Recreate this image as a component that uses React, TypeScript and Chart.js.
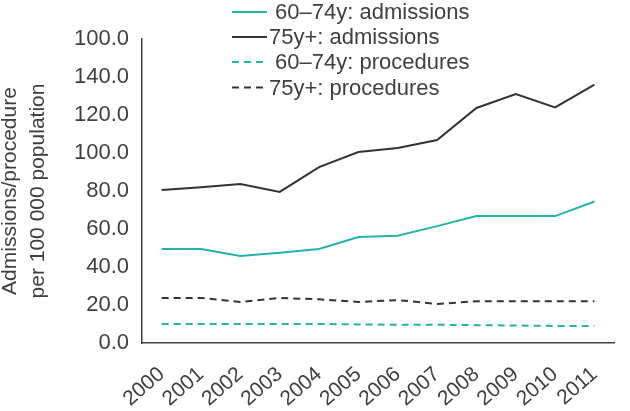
import React, { useEffect, useRef } from "react";
import { Chart, registerables } from "chart.js";

Chart.register(...registerables);

const years = ["2000", "2001", "2002", "2003", "2004", "2005", "2006", "2007", "2008", "2009", "2010", "2011"];
const admissions6074 = [49.5, 49.5, 45.8, 47.5, 49.5, 55.8, 56.5, 61.5, 66.8, 66.8, 66.8, 74.5];
const admissions75 = [80.5, 82, 83.7, 79.5, 92.6, 100.5, 102.6, 106.8, 123.7, 131, 124, 136];
const procedures6074 = [10, 10, 10, 10, 10, 9.8, 9.6, 9.6, 9.4, 9.2, 9.0, 9.0];
const procedures75 = [23.7, 23.7, 21.6, 23.7, 23, 21.6, 22.6, 20.5, 22, 22, 22, 22];
const seriesLabels = [" 60–74y: admissions", "75y+: admissions", " 60–74y: procedures", "75y+: procedures"];
// tick labels as printed on the original axis (values 0..160 step 20)
const yTickLabels = ["0.0", "20.0", "40.0", "60.0", "80.0", "100.0", "120.0", "140.0", "100.0"];
const yTitle = ["Admissions/procedure", "per 100 000 population"];

const TEAL = "#22b3ac";
const DARK = "#333333";
const TEXT = "#404040";
const FONT = "'Liberation Sans', Arial, sans-serif";

const legendPlugin = {
  id: "customLegend",
  afterDraw(chart: any) {
    const ctx = chart.ctx;
    const rows = [12, 37, 62, 87.5];
    ctx.save();
    ctx.font = `22px ${FONT}`;
    ctx.textBaseline = "middle";
    ctx.textAlign = "left";
    chart.data.datasets.forEach((ds: any, i: number) => {
      const y = rows[i];
      ctx.strokeStyle = ds.borderColor;
      ctx.lineWidth = 2;
      ctx.setLineDash(ds.borderDash || []);
      ctx.beginPath();
      ctx.moveTo(232, y);
      ctx.lineTo(267, y);
      ctx.stroke();
      ctx.setLineDash([]);
      ctx.fillStyle = TEXT;
      ctx.fillText(ds.label, 269, y + 1);
    });
    ctx.restore();
  },
};

export default function App() {
  const ref = useRef<HTMLCanvasElement>(null);
  useEffect(() => {
    if (!ref.current) return;
    const mk = (label: string, data: number[], color: string, dashed: boolean) => ({
      label,
      data,
      borderColor: color,
      backgroundColor: color,
      borderWidth: 2,
      borderDash: dashed ? [7, 5] : [],
      pointRadius: 0,
      tension: 0,
      fill: false,
    });
    const chart = new Chart(ref.current, {
      type: "line",
      data: {
        labels: years,
        datasets: [
          mk(seriesLabels[0], admissions6074, TEAL, false),
          mk(seriesLabels[1], admissions75, DARK, false),
          mk(seriesLabels[2], procedures6074, TEAL, true),
          mk(seriesLabels[3], procedures75, DARK, true),
        ],
      },
      options: {
        animation: false,
        responsive: false,
        layout: { padding: { top: 39, left: 0, right: 0, bottom: 0 } },
        plugins: { legend: { display: false }, tooltip: { enabled: false } },
        scales: {
          x: {
            offset: true,
            grid: { display: false, drawTicks: false },
            border: { display: true, color: "#444", width: 1.5 },
            ticks: {
              color: TEXT,
              font: { family: FONT, size: 21 },
              minRotation: 41,
              maxRotation: 41,
              padding: 19,
              autoSkip: false,
            },
            afterFit: (s: any) => {
              s.height = 68;
            },
          },
          y: {
            min: 0,
            max: 160,
            grid: { display: false, drawTicks: false },
            border: { display: true, color: "#444", width: 1.5 },
            ticks: {
              stepSize: 20,
              color: TEXT,
              padding: 13,
              font: { family: FONT, size: 22 },
              callback: (v: any) => yTickLabels[Math.round(Number(v) / 20)],
            },
            title: {
              display: true,
              text: yTitle,
              color: TEXT,
              font: { family: FONT, size: 21, lineHeight: 1.3 },
              padding: { top: -3, bottom: 0 },
            },
            afterFit: (s: any) => {
              s.width = 142;
            },
          },
        },
      },
      plugins: [legendPlugin],
    });
    return () => chart.destroy();
  }, []);
  return (
    <div style={{ position: "absolute", left: 0, top: 0, width: 630, height: 411, background: "#fff" }}>
      <canvas ref={ref} width={630} height={411} style={{ display: "block" }} />
    </div>
  );
}
